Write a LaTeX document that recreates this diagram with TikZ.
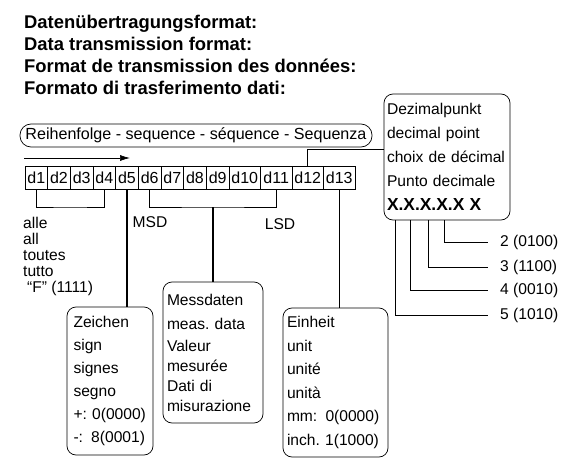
\documentclass[tikz,border=0pt]{standalone}
\usepackage{fontspec}
\setmainfont{Liberation Sans}
\usetikzlibrary{arrows.meta}
\frenchspacing

\begin{document}
\begin{tikzpicture}[x=1pt,y=-1pt]
            \tikzstyle{digit}=[draw,line width=0.7pt,inner sep=0,minimum height=23pt,font=\fontsize{16}{18}\selectfont]
            \tikzstyle{sd}=[digit,minimum width=22.67pt]   % d1..d9
            \tikzstyle{wd}=[digit,minimum width=31.5pt]    % d10..d13
            \tikzstyle{box}=[draw,line width=0.7pt,rounded corners=9pt,align=left,inner xsep=3pt,inner ysep=0pt,font=\fontsize{15.6}{23}\selectfont]
            \tikzstyle{txt}=[inner sep=0,font=\fontsize{15.6}{16}\selectfont]
            \tikzstyle{tie}=[line width=0.7pt]     % brackets and pointers
            \tikzstyle{lead}=[line width=1.5pt]    % to the boxes below

            \useasboundingbox (0,0) rectangle (568,463);

            \node[inner sep=0,anchor=north west,align=left,font=\bfseries\fontsize{18.4}{22}\selectfont] (title) at (24,15)
                {Datenübertragungsformat:\\Data transmission format:\\Format de transmission des données:\\Formato di trasferimento dati:};

            \node[draw,line width=0.7pt,rounded corners=11pt,minimum width=352pt,minimum height=23pt,inner sep=0,font=\fontsize{16.1}{18}\selectfont] (seq) at (196,135.5)
                {Reihenfolge - sequence - séquence - Sequenza};

            \coordinate (a0) at (24,158);
            \coordinate (a1) at (130,158);
            \draw[tie,-{Latex[length=10pt,width=6pt]}] (a0) -- (a1);

            \node[sd] (d1)  at ( 36.33,177.5) {d1};
            \node[sd] (d2)  at ( 59.00,177.5) {d2};
            \node[sd] (d3)  at ( 81.67,177.5) {d3};
            \node[sd] (d4)  at (104.33,177.5) {d4};
            \node[sd] (d5)  at (127.00,177.5) {d5};
            \node[sd] (d6)  at (149.67,177.5) {d6};
            \node[sd] (d7)  at (172.33,177.5) {d7};
            \node[sd] (d8)  at (195.00,177.5) {d8};
            \node[sd] (d9)  at (217.67,177.5) {d9};
            \node[wd] (d10) at (244.75,177.5) {d10};
            \node[wd] (d11) at (276.25,177.5) {d11};
            \node[wd] (d12) at (307.75,177.5) {d12};
            \node[wd] (d13) at (339.25,177.5) {d13};

            \node[txt,align=left,anchor=north west] (all) at (23,217) {alle\\all\\toutes\\tutto\\\hspace{4pt}“F” (1111)};
            \node[txt] (msd) at (150,222) {MSD};
            \node[txt] (lsd) at (280,224) {LSD};

            \node[box,text width=73pt,inner xsep=6.5pt,minimum height=148pt] (sign) at (110,381)
                {Zeichen\\sign\\signes\\segno\\+: 0(0000)\\-:\hspace{3pt} 8(0001)};
            \node[box,text width=92pt,inner xsep=4pt,minimum height=141pt,font=\fontsize{15.6}{20}\selectfont] (meas) at (213,352.5)
                {Messdaten\\[4pt]meas. data\\[2pt]Valeur\\mesurée\\Dati di\\misurazione};
            \node[box,text width=97pt,inner xsep=4pt,minimum height=149pt,font=\fontsize{15.6}{23.6}\selectfont] (unit) at (335.5,382.5)
                {Einheit\\unit\\unité\\unità\\mm: \hspace{3pt}0(0000)\\inch. 1(1000)};
            \node[box,text width=120pt,minimum height=126pt,font=\fontsize{15.6}{24}\selectfont] (dp) at (447,157)
                {Dezimalpunkt\\decimal point\\choix de décimal\\Punto decimale\\{\bfseries\fontsize{17.4}{24}\selectfont X.X.X.X.X X}};

            \node[txt,anchor=west] (l2) at (500,242) {2 (0100)};
            \node[txt,anchor=west] (l3) at (500,267) {3 (1100)};
            \node[txt,anchor=west] (l4) at (500,290) {4 (0010)};
            \node[txt,anchor=west] (l5) at (500,315) {5 (1010)};

            \coordinate (b1) at (70,207);
            \coordinate (b2) at (213,207);
            \draw[tie] (d1.south) |- (b1) -| (d4.south);
            \draw[tie] (d6.south) |- (b2) -| (d11.south);
            \draw[lead] (b2) -- (meas);
            \draw[lead] (d5.south) -- (d5.south |- sign.north);
            \draw[lead] (d13.south) -- (d13.south |- unit.north);
            \draw[tie] (d12.north) |- ([yshift=8pt]dp.west);

            \coordinate (x2) at (444,220);
            \coordinate (x3) at (428,220);
            \coordinate (x4) at (410,220);
            \coordinate (x5) at (395,220);
            \draw[tie] (x2) |- ([xshift=-12pt]l2.west);
            \draw[tie] (x3) |- ([xshift=-12pt]l3.west);
            \draw[tie] (x4) |- ([xshift=-12pt]l4.west);
            \draw[tie] (x5) |- ([xshift=-12pt]l5.west);
\end{tikzpicture}
\end{document}
